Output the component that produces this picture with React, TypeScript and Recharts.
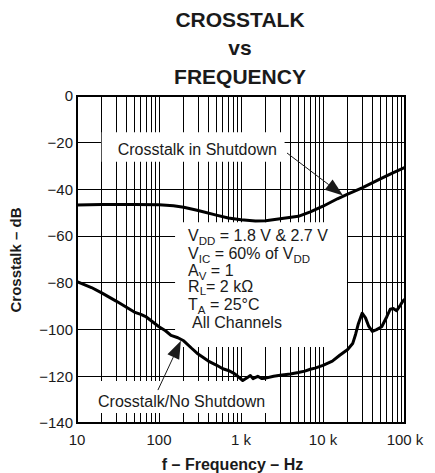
import React from 'react';
import {
  LineChart,
  Line,
  XAxis,
  YAxis,
  CartesianGrid,
  ReferenceArea,
  ReferenceLine,
} from 'recharts';

// ---- Data ----
const shutdownFreq = [10, 20, 50, 100, 150, 200, 300, 500, 700, 1000, 1500, 2000, 3000, 5000, 7000, 10000, 15000, 20000, 30000, 50000, 70000, 100000];
const shutdownDb = [-46.7, -46.5, -46.5, -46.6, -47.0, -47.6, -49.0, -51.0, -52.2, -53.0, -53.5, -53.4, -52.6, -51.5, -49.6, -47.2, -44.0, -42.0, -39.3, -35.5, -33.0, -30.5];

const noShutdownFreq = [10, 15, 20, 30, 50, 60, 70, 100, 120, 140, 170, 200, 250, 300, 400, 500, 600, 700, 800, 900, 1050, 1200, 1300, 1400, 1600, 1800, 2000, 2500, 3000, 4000, 5000, 6000, 7000, 8000, 10000, 13000, 16000, 20000, 23000, 25000, 27000, 30000, 33000, 36000, 40000, 45000, 52000, 60000, 66000, 72000, 79000, 88000, 95000, 100000];
const noShutdownDb = [-79.5, -82.0, -84.3, -87.8, -92.5, -93.5, -94.6, -98.8, -100.5, -102.5, -103.5, -104.8, -108.0, -110.5, -113.5, -115.2, -116.8, -117.5, -118.5, -119.8, -121.8, -120.5, -119.7, -121.0, -120.0, -121.0, -120.8, -120.0, -119.6, -119.0, -118.4, -117.8, -117.0, -116.5, -115.3, -113.5, -111.0, -108.5, -106.0, -102.0, -97.5, -93.0, -95.0, -98.5, -100.8, -100.0, -98.8, -94.5, -91.3, -91.0, -91.9, -89.5, -87.6, -87.0];

const decadeTicks = [10, 100, 1000, 10000, 100000];
const decadeLabels = ['10', '100', '1 k', '10 k', '100 k'];
const gridFreqs = [
  10, 20, 30, 40, 50, 60, 70, 80, 90,
  100, 200, 300, 400, 500, 600, 700, 800, 900,
  1000, 2000, 3000, 4000, 5000, 6000, 7000, 8000, 9000,
  10000, 20000, 30000, 40000, 50000, 60000, 70000, 80000, 90000,
  100000,
];
const yTicks = [0, -20, -40, -60, -80, -100, -120, -140];
const yTickLabels = ['0', '−20', '−40', '−60', '−80', '−100', '−120', '−140'];

const titleLines = ['CROSSTALK', 'vs', 'FREQUENCY'];
const xAxisTitle = 'f – Frequency – Hz';
const yAxisTitle = 'Crosstalk – dB';
const shutdownLabel = 'Crosstalk in Shutdown';
const noShutdownLabel = 'Crosstalk/No Shutdown';

const shutdownData = shutdownFreq.map((f, i) => ({ f, db: shutdownDb[i] }));
const noShutdownData = noShutdownFreq.map((f, i) => ({ f, db: noShutdownDb[i] }));

const FONT = '"Liberation Sans", Arial, Helvetica, sans-serif';
const INK = '#1a1a1a';

const xFmt = (v: number) => {
  const i = decadeTicks.indexOf(v);
  return i >= 0 ? decadeLabels[i] : '';
};
const yFmt = (v: number) => {
  const i = yTicks.indexOf(v);
  return i >= 0 ? yTickLabels[i] : '';
};

const Arrow = (props: any) => {
  const { x1, y1, x2, y2 } = props;
  const dx = x2 - x1;
  const dy = y2 - y1;
  const len = Math.hypot(dx, dy) || 1;
  const ux = dx / len;
  const uy = dy / len;
  const L = 18;
  const W = 6.5;
  const bx = x2 - ux * L;
  const by = y2 - uy * L;
  const px = -uy;
  const py = ux;
  return (
    <g>
      <line x1={x1} y1={y1} x2={bx} y2={by} stroke={INK} strokeWidth={1} />
      <polygon
        points={`${x2},${y2} ${bx + px * W},${by + py * W} ${bx - px * W},${by - py * W}`}
        fill={INK}
      />
    </g>
  );
};

const textStyle = { fontFamily: FONT, fontSize: 16, fill: INK } as const;

const SimpleLabel = (text: string, dx: number, dy: number) => (props: any) => {
  const vb = props.viewBox || {};
  return (
    <text x={vb.x + dx} y={vb.y + dy} {...textStyle}>
      {text}
    </text>
  );
};

const SpecLabel = (props: any) => {
  const vb = props.viewBox || {};
  const x = vb.x + 13;
  const ys = [19, 37.3, 54, 69.7, 88, 106].map((o) => vb.y + o);
  const sub = { fontSize: 11.5 };
  return (
    <g>
      <text x={x} y={ys[0]} {...textStyle}>
        V<tspan {...sub} dy={3.5}>DD</tspan>
        <tspan dy={-3.5}>{' = 1.8 V & 2.7 V'}</tspan>
      </text>
      <text x={x} y={ys[1]} {...textStyle}>
        V<tspan {...sub} dy={3.5}>IC</tspan>
        <tspan dy={-3.5}>{' = 60% of V'}</tspan>
        <tspan {...sub} dy={3.5}>DD</tspan>
      </text>
      <text x={x} y={ys[2]} {...textStyle}>
        A<tspan {...sub} dy={3.5}>V</tspan>
        <tspan dy={-3.5}>{' = 1'}</tspan>
      </text>
      <text x={x} y={ys[3]} {...textStyle}>
        R<tspan {...sub} dy={3.5}>L</tspan>
        <tspan dy={-3.5}>{'= 2 kΩ'}</tspan>
      </text>
      <text x={x} y={ys[4]} {...textStyle}>
        T<tspan {...sub} dy={3.5}>A</tspan>
        <tspan dy={-3.5}>{' = 25°C'}</tspan>
      </text>
      <text x={x + 4} y={ys[5]} {...textStyle}>
        All Channels
      </text>
    </g>
  );
};

export default function App() {
  return (
    <div style={{ position: 'absolute', left: 0, top: 0, width: 435, height: 473, background: '#fff' }}>
      <LineChart width={435} height={473} margin={{ top: 96, right: 30, bottom: 0, left: 0 }}>
        <CartesianGrid stroke="#000" strokeWidth={1} shapeRendering="crispEdges" />
        <XAxis
          type="number"
          dataKey="f"
          scale="log"
          domain={[10, 100000]}
          ticks={gridFreqs}
          interval={0}
          tickFormatter={xFmt}
          tickLine={false}
          axisLine={false}
          tickSize={0}
          tickMargin={11}
          height={50}
          allowDataOverflow
          tick={{ fontFamily: FONT, fontSize: 15, fill: INK }}
        />
        <YAxis
          type="number"
          domain={[-140, 0]}
          ticks={yTicks}
          interval={0}
          tickFormatter={yFmt}
          tickLine={false}
          axisLine={false}
          tickSize={0}
          tickMargin={4}
          width={77}
          allowDataOverflow
          tick={{ fontFamily: FONT, fontSize: 15, fill: INK }}
        />
        <ReferenceArea x1={20} x2={3400} y1={-15.5} y2={-28.2} fill="#fff" fillOpacity={1} stroke="none" label={SimpleLabel(shutdownLabel, 16, 23)} />
        <ReferenceArea x1={157} x2={19600} y1={-54} y2={-107.5} fill="#fff" fillOpacity={1} stroke="none" label={SpecLabel} />
        <ReferenceArea x1={15.7} x2={2260} y1={-122} y2={-135.7} fill="#fff" fillOpacity={1} stroke="none" label={SimpleLabel(noShutdownLabel, 5, 25.7)} />
        <ReferenceArea x1={10} x2={100000} y1={-140} y2={0} fill="none" stroke="#000" strokeWidth={2} />
        <ReferenceLine segment={[{ x: 3640, y: -24.4 }, { x: 17540, y: -42.6 }]} shape={Arrow} />
        <ReferenceLine segment={[{ x: 97, y: -125.9 }, { x: 185, y: -104.8 }]} shape={Arrow} />
        <Line data={shutdownData} dataKey="db" type="linear" stroke="#000" strokeWidth={3} dot={false} isAnimationActive={false} strokeLinejoin="round" />
        <Line data={noShutdownData} dataKey="db" type="linear" stroke="#000" strokeWidth={3} dot={false} isAnimationActive={false} strokeLinejoin="round" />
      </LineChart>
      <svg width={435} height={473} style={{ position: 'absolute', left: 0, top: 0, pointerEvents: 'none' }}>
        <text x={240} y={27} textAnchor="middle" fontFamily={FONT} fontWeight="bold" fontSize={21} fill={INK}>{titleLines[0]}</text>
        <text x={240} y={55} textAnchor="middle" fontFamily={FONT} fontWeight="bold" fontSize={21} fill={INK}>{titleLines[1]}</text>
        <text x={240} y={84} textAnchor="middle" fontFamily={FONT} fontWeight="bold" fontSize={21} fill={INK}>{titleLines[2]}</text>
        <text x={232.5} y={470} textAnchor="middle" fontFamily={FONT} fontWeight="bold" fontSize={16} fill={INK}>{xAxisTitle}</text>
        <text x={21} y={260} transform="rotate(-90 21 260)" textAnchor="middle" fontFamily={FONT} fontWeight="bold" fontSize={15} fill={INK}>{yAxisTitle}</text>
      </svg>
    </div>
  );
}
